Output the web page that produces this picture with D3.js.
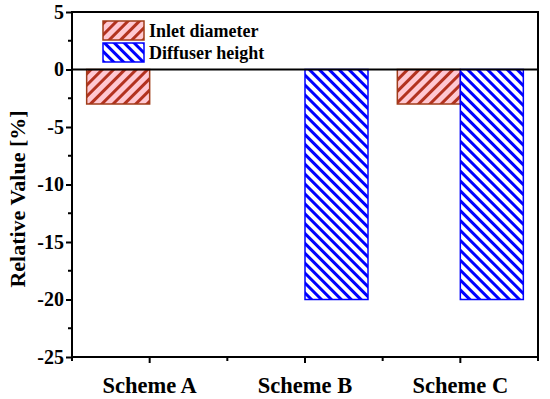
<!DOCTYPE html>
<html><head><meta charset="utf-8">
<script src="https://cdn.jsdelivr.net/npm/d3@7"></script>
<style>body{margin:0;background:#fff}svg{display:block}
svg text{font-family:"Liberation Serif","Times New Roman",Times,"DejaVu Serif",serif;font-weight:bold;fill:#000}</style>
</head><body>
<script>
const categories = ["Scheme A", "Scheme B", "Scheme C"];
const seriesNames = ["Inlet diameter", "Diffuser height"];
const inletDiameter = [-3, 0, -3];
const diffuserHeight = [0, -20, -20];
const yTicks = [5, 0, -5, -10, -15, -20, -25];

const W = 550, H = 399;
const m = {l: 72, r: 12, t: 12, b: 42};
const svg = d3.select("body").append("svg").attr("width", W).attr("height", H);
const defs = svg.append("defs");
const p1 = defs.append("pattern").attr("id","hatchRed").attr("patternUnits","userSpaceOnUse")
  .attr("width",8).attr("height",8).attr("patternTransform","rotate(45)");
p1.append("rect").attr("width",8).attr("height",8).attr("fill","#ffc8d2");
p1.append("rect").attr("width",3).attr("height",8).attr("fill","#b3321f");
const p2 = defs.append("pattern").attr("id","hatchBlue").attr("patternUnits","userSpaceOnUse")
  .attr("width",7).attr("height",7).attr("patternTransform","rotate(-45)");
p2.append("rect").attr("width",7).attr("height",7).attr("fill","#fff");
p2.append("rect").attr("width",3).attr("height",7).attr("fill","#0000ff");

const x = d3.scaleBand().domain(categories).range([m.l, W - m.r]).padding(0);
const y = d3.scaleLinear().domain([-25, 5]).range([H - m.b, m.t]);
const bw = 63;

const fills = ["url(#hatchRed)", "url(#hatchBlue)"];
const strokes = ["#a03c1a", "#0000ff"];
const data = [inletDiameter, diffuserHeight];
data.forEach((vals, si) => {
  svg.append("g").selectAll("rect").data(categories.map((c,i)=>({c, v: vals[i]})).filter(d=>d.v!==0))
    .join("rect")
    .attr("x", d => x(d.c) + x.bandwidth()/2 + (si === 0 ? -bw : 0))
    .attr("y", d => y(Math.max(0, d.v)))
    .attr("width", bw)
    .attr("height", d => Math.abs(y(d.v) - y(0)))
    .attr("fill", fills[si]).attr("stroke", strokes[si]).attr("stroke-width", 1.5);
});

// zero line
svg.append("line").attr("x1", m.l).attr("x2", W - m.r).attr("y1", y(0)).attr("y2", y(0))
  .attr("stroke", "#000").attr("stroke-width", 2);

// frame
svg.append("rect").attr("x", m.l).attr("y", m.t).attr("width", W - m.r - m.l).attr("height", H - m.b - m.t)
  .attr("fill", "none").attr("stroke", "#000").attr("stroke-width", 2);

// y axis
const yAxis = svg.append("g").attr("transform", `translate(${m.l},0)`)
  .call(d3.axisLeft(y).tickValues(yTicks).tickSize(6).tickPadding(2).tickFormat(d => String(d)));
yAxis.attr("font-family", null).attr("font-size", null);
yAxis.select(".domain").remove();
yAxis.selectAll("line").attr("stroke-width", 2);
yAxis.selectAll("text").style("font-size", "20px");
const minorY = d3.range(-22.5, 5, 5);
svg.append("g").selectAll("line").data(minorY).join("line")
  .attr("x1", m.l - 4).attr("x2", m.l).attr("y1", d => y(d)).attr("y2", d => y(d))
  .attr("stroke", "#000").attr("stroke-width", 2);

// x axis
const xAxis = svg.append("g").attr("transform", `translate(0,${H - m.b})`)
  .call(d3.axisBottom(x).tickSize(6).tickPadding(20));
xAxis.attr("font-family", null).attr("font-size", null);
xAxis.select(".domain").remove();
xAxis.selectAll("line").attr("stroke-width", 2);
xAxis.selectAll("text").style("font-size", "22.5px").attr("y", 36).attr("dy", null);
const minorX = d3.range(0, categories.length + 1).map(i => m.l + i * x.step());
svg.append("g").selectAll("line").data(minorX).join("line")
  .attr("x1", d => d).attr("x2", d => d).attr("y1", H - m.b).attr("y2", H - m.b + 4)
  .attr("stroke", "#000").attr("stroke-width", 2);

// y title
svg.append("text").attr("transform", `translate(25,199) rotate(-90)`)
  .attr("text-anchor", "middle").style("font-size", "22px").text("Relative Value [%]");

// legend
const lg = svg.append("g");
seriesNames.forEach((n, i) => {
  const yy = 21 + i * 22;
  lg.append("rect").attr("x", 103).attr("y", yy).attr("width", 41).attr("height", 19)
    .attr("fill", fills[i]).attr("stroke", strokes[i]).attr("stroke-width", 1.5);
  lg.append("text").attr("x", 149).attr("y", yy + 16).style("font-size", "18px").text(n);
});
</script>
</body></html>
